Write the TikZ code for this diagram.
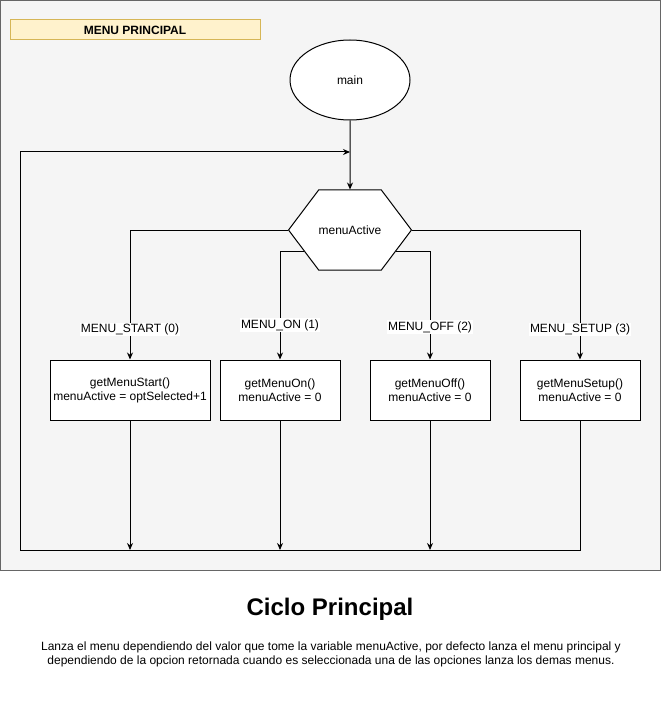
\documentclass[tikz,border=0pt]{standalone}
\usepackage{fontspec}
\setmainfont{Liberation Sans}
\usetikzlibrary{shapes.geometric,shapes.symbols,arrows.meta}
\definecolor{panel}{HTML}{F5F5F5}
\definecolor{panelline}{HTML}{666666}
\definecolor{notefill}{HTML}{FFF2CC}
\definecolor{noteline}{HTML}{D6B656}

\begin{document}
\begin{tikzpicture}[x=1pt,y=-1pt,line width=1pt,
    font=\fontsize{12}{14}\selectfont,
    arr/.style={-{Stealth[length=7pt,width=6pt]}},
    box/.style={draw,fill=white,minimum width=#1,minimum height=60pt,align=center,inner sep=1pt},
    lbl/.style={fill=white,inner sep=1pt}]
    \fill[white] (0,0) rectangle (661,711);
    \filldraw[fill=panel,draw=panelline] (0.5,0.5) rectangle (660,570);
    \node[draw=noteline,fill=notefill,minimum width=250pt,minimum height=20pt,font=\bfseries\fontsize{12}{14}\selectfont] (note) at (135,30) {MENU PRINCIPAL};
    \node[ellipse,draw,fill=white,minimum width=120pt,minimum height=80pt,inner sep=0pt] (main) at (350,80) {main};
    \node[signal,signal to=west and east,signal pointer angle=106,draw,fill=white,minimum width=120pt,minimum height=80pt,inner sep=0pt] (active) at (350,230) {menuActive};
    \node[box=160pt] (start) at (130,390) {getMenuStart()\\menuActive = optSelected+1};
    \node[box=120pt] (on) at (280,390) {getMenuOn()\\menuActive = 0};
    \node[box=120pt] (off) at (430,390) {getMenuOff()\\menuActive = 0};
    \node[box=120pt] (setup) at (580,390) {getMenuSetup()\\menuActive = 0};
    \coordinate (loop) at (20,550);
    \coordinate (back) at (350,152);
    % casos del switch
    \draw[arr] (main) -- (active);
    \draw[arr] (active.west) -| (start) node[lbl,pos=0.885] {MENU\_START (0)};
    \draw[arr] (active.205.5) -| (on) node[lbl,pos=0.84] {MENU\_ON (1)};
    \draw[arr] (active.-25.5) -| (off) node[lbl,pos=0.85] {MENU\_OFF (2)};
    \draw[arr] (active.east) -| (setup) node[lbl,pos=0.885] {MENU\_SETUP (3)};
    % vuelta al inicio
    \foreach \b in {start,on,off} \draw[arr] (\b) -- (\b |- loop);
    \draw[arr] (setup) |- (loop) |- (back);
    \node[font=\bfseries\fontsize{24}{28}\selectfont] (title) at (330,609) {Ciclo Principal};
    \node[align=center,font=\fontsize{12}{14}\selectfont] (desc) at (331,654) {Lanza el menu dependiendo del valor que tome la variable menuActive, por defecto lanza el menu principal y\\dependiendo de la opcion retornada cuando es seleccionada una de las opciones lanza los demas menus.};
  \end{tikzpicture}
\end{document}
